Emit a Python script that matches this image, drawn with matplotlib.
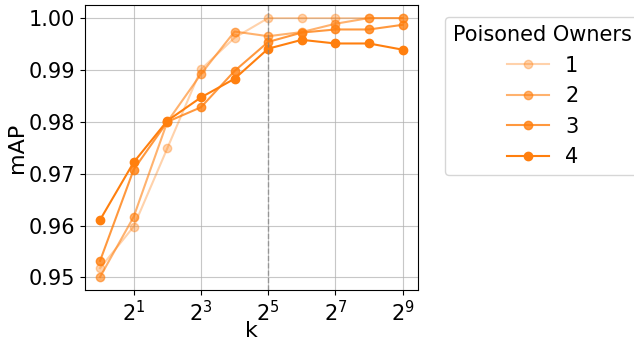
import matplotlib
matplotlib.use('Agg')
import matplotlib.pyplot as plt

k = [1, 2, 4, 8, 16, 32, 64, 128, 256, 512]
owners = ['1', '2', '3', '4']
map1 = [0.9518, 0.9598, 0.9749, 0.9901, 0.9962, 1.0000, 1.0000, 1.0000, 1.0000, 1.0000]
map2 = [0.9501, 0.9617, 0.9800, 0.9892, 0.9974, 0.9965, 0.9973, 0.9989, 1.0000, 1.0000]
map3 = [0.9532, 0.9708, 0.9800, 0.9828, 0.9898, 0.9954, 0.9972, 0.9978, 0.9978, 0.9987]
map4 = [0.9611, 0.9722, 0.9802, 0.9847, 0.9883, 0.9941, 0.9958, 0.9951, 0.9951, 0.9939]
allMaps = [map1, map2, map3, map4]
alphas = [0.35, 0.6, 0.8, 1.0]

fig, ax = plt.subplots(figsize=(6.34, 3.41), dpi=100)
fig.subplots_adjust(left=0.134, right=0.659, top=0.985, bottom=0.150)

for i in range(len(allMaps)):
    ax.plot(k, allMaps[i], marker='o', markersize=6, color='#ff7f0e',
            alpha=alphas[i], label=owners[i])

ax.set_xscale('log', base=2)
ax.set_xticks([2, 8, 32, 128, 512])
ax.minorticks_off()
ax.axvline(32, color='gray', linestyle='--', linewidth=1, alpha=0.7)
ax.grid(True, color='#b0b0b0', alpha=0.7)
ax.set_yticks([0.95, 0.96, 0.97, 0.98, 0.99, 1.00])
ax.set_yticklabels(['0.95', '0.96', '0.97', '0.98', '0.99', '1.00'])
ax.tick_params(labelsize=15)
ax.set_xlabel('k', fontsize=16, labelpad=-2.5)
ax.set_ylabel('mAP', fontsize=16, labelpad=1)

ax.legend(title='Poisoned Owners', fontsize=15, title_fontsize=15,
          loc='upper left', bbox_to_anchor=(1.05, 0.995))

fig.savefig('out.png', dpi=100)
